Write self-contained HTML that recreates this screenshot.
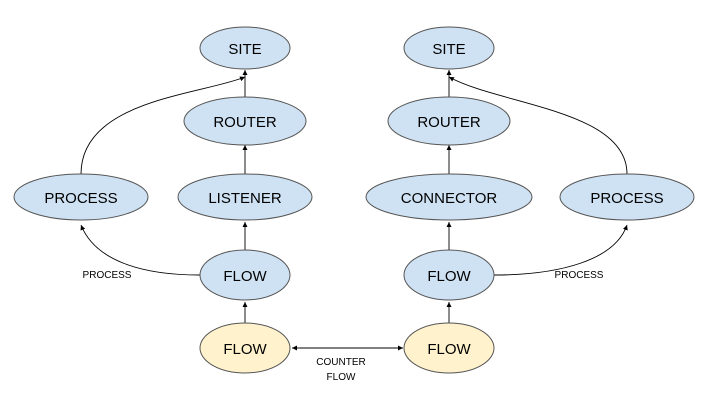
<!DOCTYPE html>
<html><head><style>body{margin:0;background:#fff}svg{display:block}</style></head><body>
<svg width="703" height="406" xmlns="http://www.w3.org/2000/svg" font-family="Liberation Sans, Arial, sans-serif">
<defs><marker id="a" markerWidth="6" markerHeight="6" refX="5" refY="3" orient="auto" markerUnits="userSpaceOnUse"><path d="M0,0.5 L5,3 L0,5.5z" fill="#000"/></marker></defs>
<g fill="none" stroke="#000" stroke-width="0.9">
<path d="M245,97 V70" marker-end="url(#a)"/>
<path d="M245,174 V145" marker-end="url(#a)"/>
<path d="M245,250 V222" marker-end="url(#a)"/>
<path d="M245,323 V302" marker-end="url(#a)"/>
<path d="M449,97 V70" marker-end="url(#a)"/>
<path d="M449,174 V145" marker-end="url(#a)"/>
<path d="M449,250 V222" marker-end="url(#a)"/>
<path d="M449,323 V302" marker-end="url(#a)"/>
<path d="M81,174 C81,100 200,95 245,77" marker-end="url(#a)"/>
<path d="M627,174 C627,110 500,105 449,77" marker-end="url(#a)"/>
<path d="M200,275 C140,275 95,260 81,225" marker-end="url(#a)"/>
<path d="M494,275 C560,275 615,260 627,225" marker-end="url(#a)"/>
<path d="M300,348 H403" marker-end="url(#a)"/>
<path d="M300,348 H292" marker-end="url(#a)"/>
</g>
<g stroke="#555" stroke-width="1" fill="#cfe2f3">
<ellipse cx="245" cy="48" rx="45" ry="21"/>
<ellipse cx="245" cy="121" rx="61" ry="24"/>
<ellipse cx="81" cy="197" rx="67" ry="23"/>
<ellipse cx="245" cy="197" rx="67" ry="23"/>
<ellipse cx="245" cy="275" rx="45" ry="25"/>
<ellipse cx="449" cy="48" rx="45" ry="21"/>
<ellipse cx="449" cy="121" rx="61" ry="24"/>
<ellipse cx="449" cy="197" rx="83" ry="23"/>
<ellipse cx="627" cy="197" rx="67" ry="23"/>
<ellipse cx="449" cy="275" rx="45" ry="25"/>
<ellipse cx="245" cy="348" rx="45" ry="25" fill="#fff2cc"/>
<ellipse cx="449" cy="348" rx="45" ry="25" fill="#fff2cc"/>
</g>
<g font-size="15" text-anchor="middle" fill="#000">
<text x="245" y="54">SITE</text>
<text x="245" y="127">ROUTER</text>
<text x="81" y="203">PROCESS</text>
<text x="245" y="203">LISTENER</text>
<text x="245" y="281">FLOW</text>
<text x="245" y="354">FLOW</text>
<text x="449" y="54">SITE</text>
<text x="449" y="127">ROUTER</text>
<text x="449" y="203">CONNECTOR</text>
<text x="627" y="203">PROCESS</text>
<text x="449" y="281">FLOW</text>
<text x="449" y="354">FLOW</text>
</g>
<g font-size="10" text-anchor="middle" fill="#000">
<text x="107" y="278">PROCESS</text>
<text x="579" y="278">PROCESS</text>
<text x="341" y="365">COUNTER</text>
<text x="341" y="380">FLOW</text>
</g>
</svg>
</body></html>
